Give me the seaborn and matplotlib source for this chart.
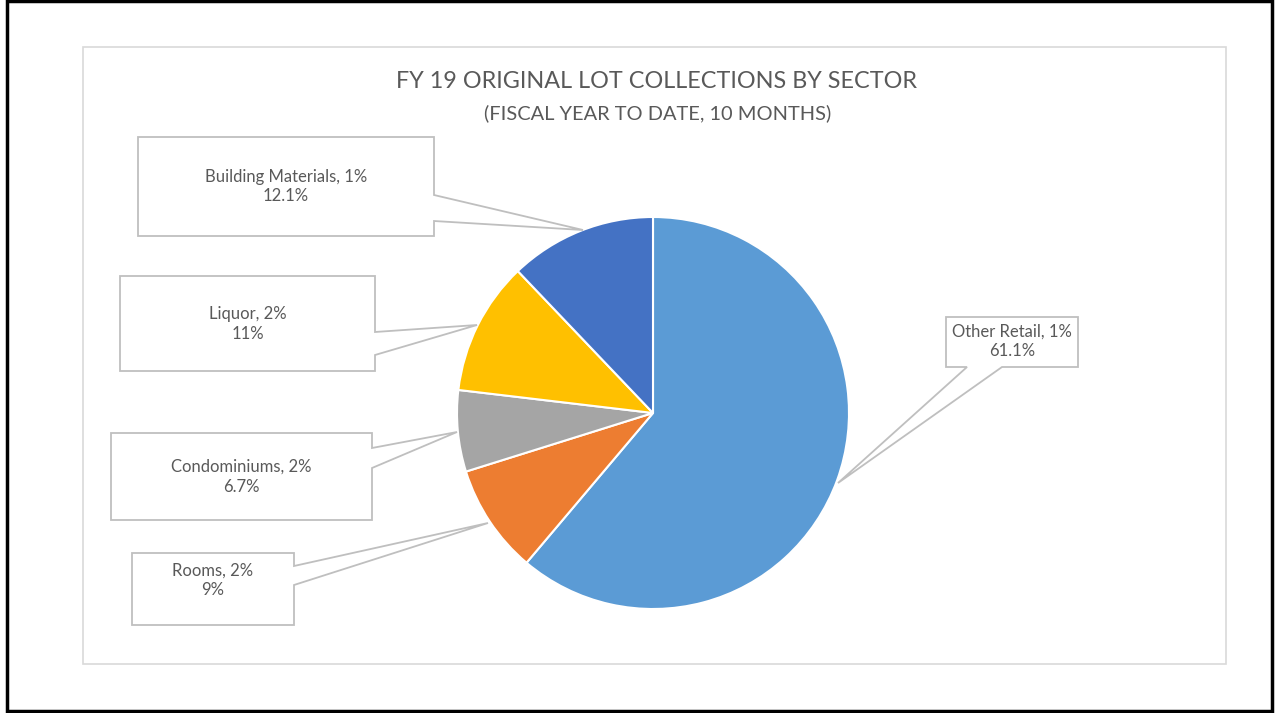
import matplotlib
matplotlib.use("Agg")
import matplotlib.pyplot as plt
import seaborn as sns
from matplotlib.patches import Polygon, Rectangle

# ---- data ----
sectors = ["Other Retail", "Rooms", "Condominiums", "Liquor", "Building Materials"]
shares = [61.1, 9, 6.7, 11, 12.1]
share_labels = ["61.1%", "9%", "6.7%", "11%", "12.1%"]
rate_labels = ["1%", "2%", "2%", "2%", "1%"]
colors = ["#5B9BD5", "#ED7D31", "#A5A5A5", "#FFC000", "#4472C4"]
title = "FY 19 ORIGINAL LOT COLLECTIONS BY SECTOR"
subtitle = "(FISCAL YEAR TO DATE, 10 MONTHS)"

sns.set_theme(style="white")
plt.rcParams['font.family'] = ['Lato', 'DejaVu Sans']

W, H = 1276, 713
fig = plt.figure(figsize=(W / 100, H / 100), dpi=100)
ax = fig.add_axes([0, 0, 1, 1])

def Y(p):
    return H - p

# pie
cx, cy, r = 653, 413, 196
ax.pie(shares, colors=sns.color_palette(colors), startangle=90, counterclock=False,
       center=(cx, Y(cy)), radius=r,
       wedgeprops=dict(edgecolor="white", linewidth=1.5), frame=False)

# outer black border and inner gray chart area
ax.add_patch(Rectangle((7, Y(711)), 1265, 710, fill=False, edgecolor="black", linewidth=2.5, zorder=0))
ax.add_patch(Rectangle((83, Y(664)), 1143, 617, fill=False, edgecolor="#D9D9D9", linewidth=1.2, zorder=0))

# callouts: box (x0, y0, x1, y1), pointer side, pointer start/end along side, anchor, text centre y
callouts = {
    "Other Retail": dict(box=(946, 317, 1078, 367), side="bottom", p=(967, 1002), anchor=(838, 483), ty=341.5),
    "Rooms": dict(box=(132, 553, 294, 625), side="right", p=(566, 585), anchor=(488, 523), ty=580.5),
    "Condominiums": dict(box=(111, 433, 372, 520), side="right", p=(448, 468), anchor=(457, 432), ty=477),
    "Liquor": dict(box=(120, 276, 375, 371), side="right", p=(332, 355), anchor=(477, 325), ty=324),
    "Building Materials": dict(box=(138, 137, 434, 236), side="right", p=(195, 221), anchor=(583, 230), ty=186.5),
}

for name, rate, lab in zip(sectors, rate_labels, share_labels):
    c = callouts[name]
    x0, y0, x1, y1 = c["box"]
    ax_, ay_ = c["anchor"]
    pa, pb = c["p"]
    if c["side"] == "right":
        verts = [(x0, y0), (x1, y0), (x1, pa), (ax_, ay_), (x1, pb), (x1, y1), (x0, y1)]
    else:
        verts = [(x0, y0), (x1, y0), (x1, y1), (pb, y1), (ax_, ay_), (pa, y1), (x0, y1)]
    verts = [(vx, Y(vy)) for vx, vy in verts]
    ax.add_patch(Polygon(verts, closed=True, facecolor="white", edgecolor="#BFBFBF",
                         linewidth=1.3, zorder=3))
    tx = (x0 + x1) / 2
    ax.text(tx, Y(c["ty"]), f"{name}, {rate}\n{lab}", ha="center", va="center",
            fontsize=12, color="#595959", linespacing=1.3, zorder=4)

ax.text(657, Y(81), title, ha="center", va="center", fontsize=16.8, color="#595959")
ax.text(658, Y(113), subtitle, ha="center", va="center", fontsize=14.4, color="#595959")

ax.set_xlim(0, W)
ax.set_ylim(0, H)
ax.set_aspect("auto")
ax.axis("off")

fig.savefig("out.png", dpi=100, facecolor="white")
